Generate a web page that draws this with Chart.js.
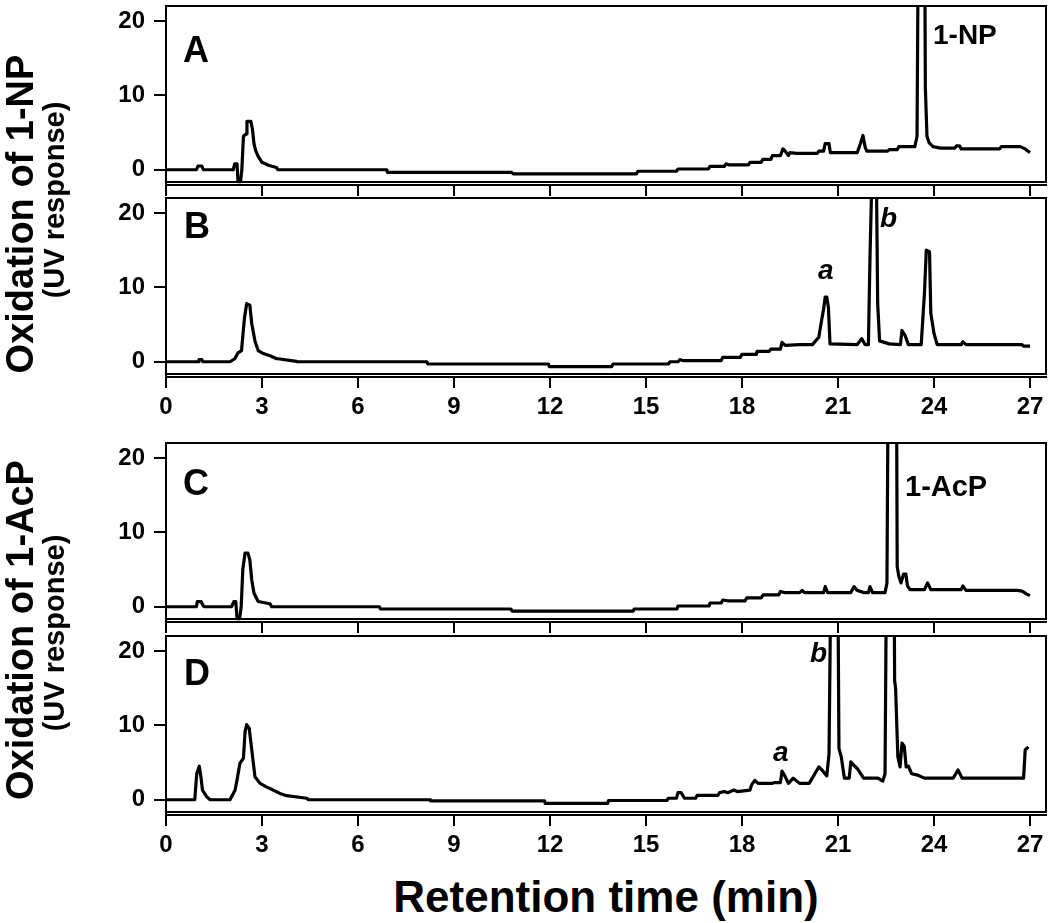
<!DOCTYPE html>
<html><head><meta charset="utf-8">
<script src="https://cdn.jsdelivr.net/npm/chart.js@4.4.1/dist/chart.umd.min.js"></script>
<style>
html,body{margin:0;padding:0;background:#fff;}
#wrap{position:relative;width:1050px;height:923px;overflow:hidden;background:#fff;font-family:"Liberation Sans",Arial,Helvetica,sans-serif;color:#000;}
#wrap canvas{position:absolute;left:0;}
.t{position:absolute;white-space:nowrap;line-height:1;font-weight:bold;color:#000;}
</style></head><body><div id="wrap">
<canvas id="cA" width="1050" height="199" style="top:0px"></canvas>
<canvas id="cB" width="1050" height="237" style="top:190px"></canvas>
<canvas id="cC" width="1050" height="206" style="top:430px"></canvas>
<canvas id="cD" width="1050" height="240" style="top:625px"></canvas>
</div>
<script>
// ---- data ----
const xTicks = [0, 3, 6, 9, 12, 15, 18, 21, 24, 27];
const yTicks = [0, 10, 20];
const yTitleTop = "Oxidation of 1-NP";
const yTitleBottom = "Oxidation of 1-AcP";
const ySubTitle = "(UV response)";
const xTitle = "Retention time (min)";
const panelLetters = ["A", "B", "C", "D"];

// [retention time (min), UV response]
const traceA = [[0,0],[0.95,0],[1.0,0.5],[1.12,0.5],[1.17,0],[2.1,0],[2.15,0.8],[2.22,0.8],[2.25,-1.6],[2.33,-1.6],[2.37,0],[2.42,4.5],[2.5,4.8],[2.53,6.5],[2.65,6.5],[2.7,5.5],[2.75,3.5],[2.8,2.6],[2.88,1.8],[3.0,1.0],[3.2,0.6],[3.45,0.3],[3.5,0],[6.9,0],[6.92,-0.35],[10.8,-0.35],[10.85,-0.55],[14.7,-0.55],[14.75,-0.2],[15.95,-0.2],[16.0,0.1],[16.95,0.1],[17.0,0.45],[17.45,0.45],[17.5,0.8],[17.6,0.65],[18.2,0.65],[18.25,1.0],[18.6,1.0],[18.65,1.4],[18.9,1.4],[18.95,1.9],[19.2,1.9],[19.28,2.8],[19.35,2.5],[19.45,1.9],[19.5,2.3],[19.7,2.2],[20.35,2.2],[20.4,2.5],[20.55,2.5],[20.6,3.5],[20.72,3.5],[20.76,2.3],[21.6,2.3],[21.7,3.5],[21.78,4.6],[21.85,3.0],[21.9,2.5],[22.55,2.5],[22.6,2.7],[22.85,2.7],[22.9,3.1],[23.4,3.1],[23.47,4.5],[23.52,40],[23.7,40],[23.73,11],[23.78,4.5],[23.85,3.6],[23.97,3.1],[24.2,2.9],[24.65,2.9],[24.7,3.2],[24.8,3.2],[24.85,2.8],[26.05,2.8],[26.1,3.1],[26.7,3.1],[26.85,2.8],[27.0,2.3]];

const traceB = [[0,0],[1.0,0],[1.03,0.3],[1.12,0.3],[1.15,0],[2.0,0],[2.15,0.4],[2.25,1.2],[2.36,1.5],[2.45,5.8],[2.52,7.8],[2.62,7.6],[2.68,5.1],[2.78,2.8],[2.88,1.5],[3.04,1.1],[3.25,0.8],[3.46,0.4],[3.5,0.4],[4.08,0.05],[4.1,0],[8.15,0],[8.18,-0.3],[11.95,-0.3],[11.98,-0.65],[13.93,-0.65],[13.97,-0.3],[15.7,-0.3],[15.75,0],[16.0,0],[16.06,0.3],[16.15,0.15],[17.35,0.15],[17.4,0.6],[17.95,0.6],[18.0,1.0],[18.45,1.0],[18.47,1.4],[18.85,1.4],[18.9,1.7],[19.2,1.7],[19.25,2.6],[19.35,2.2],[19.8,2.3],[20.2,2.3],[20.4,3.3],[20.45,4.6],[20.55,7.1],[20.6,8.7],[20.65,8.7],[20.7,7.3],[20.75,2.4],[21.6,2.3],[21.74,3.1],[21.85,2.3],[21.95,2.3],[22.0,14.1],[22.06,25],[22.2,25],[22.24,7.8],[22.3,2.8],[22.6,2.4],[22.95,2.3],[23.0,4.2],[23.1,3.5],[23.2,2.3],[23.6,2.3],[23.7,9.1],[23.76,15.0],[23.86,14.8],[23.9,6.5],[24.0,3.8],[24.1,2.3],[24.85,2.3],[24.9,2.7],[25.0,2.3],[26.75,2.3],[26.8,2.1],[27.0,2.1]];

const traceC = [[0,0],[0.95,0],[0.98,0.7],[1.1,0.7],[1.15,0.2],[1.2,0],[2.05,0],[2.12,0.7],[2.18,0.7],[2.22,-1.6],[2.3,-1.6],[2.35,0],[2.4,5.0],[2.47,7.2],[2.56,7.2],[2.62,6.3],[2.68,3.6],[2.75,1.8],[2.88,0.7],[3.25,0.4],[3.3,0],[6.67,0],[6.7,-0.3],[10.78,-0.3],[10.82,-0.6],[14.6,-0.6],[14.63,-0.3],[15.97,-0.3],[16.0,0.1],[16.97,0.1],[17.0,0.5],[17.35,0.5],[17.4,0.9],[17.55,0.8],[18.1,0.8],[18.15,1.2],[18.6,1.2],[18.66,1.6],[19.15,1.6],[19.2,2.05],[19.35,1.9],[19.8,1.9],[19.88,2.2],[19.95,1.9],[20.55,1.9],[20.6,2.7],[20.68,1.9],[21.4,1.9],[21.5,2.7],[21.6,2.2],[21.8,1.9],[21.95,1.9],[22.0,2.7],[22.08,1.9],[22.47,1.9],[22.53,3.2],[22.58,40],[22.82,40],[22.85,5.4],[22.9,4.1],[22.97,3.2],[23.05,4.4],[23.12,4.4],[23.17,2.8],[23.25,2.3],[23.7,2.3],[23.8,3.2],[23.9,2.3],[24.85,2.3],[24.9,2.8],[25.0,2.2],[26.6,2.2],[26.75,2.1],[26.9,1.7],[27.0,1.5]];

const traceD = [[0,0],[0.9,0],[0.96,3.5],[1.04,4.5],[1.09,3.1],[1.14,1.3],[1.27,0.4],[1.38,0],[2.0,0],[2.16,1.3],[2.23,2.9],[2.31,4.9],[2.42,5.6],[2.47,9.1],[2.52,10.1],[2.6,9.6],[2.68,6.7],[2.78,3.1],[2.94,2.2],[3.15,1.7],[3.35,1.3],[3.56,0.85],[3.77,0.55],[4.4,0.2],[4.45,0],[8.25,0],[8.27,-0.15],[11.83,-0.15],[11.85,-0.5],[13.8,-0.5],[13.83,-0.1],[15.65,-0.1],[15.7,0.2],[15.95,0.2],[16.0,0.95],[16.1,0.95],[16.2,0.2],[16.55,0.2],[16.6,0.6],[17.25,0.6],[17.3,0.95],[17.45,1.1],[17.55,0.95],[17.75,1.3],[17.85,1.1],[18.25,1.3],[18.3,2.0],[18.4,2.6],[18.5,2.2],[18.95,2.2],[19.0,2.3],[19.2,2.3],[19.25,3.85],[19.35,3.1],[19.45,2.2],[19.6,2.9],[19.8,2.2],[20.1,2.2],[20.4,4.4],[20.5,4.0],[20.65,3.2],[20.72,6.2],[20.8,40],[20.98,40],[21.03,6.9],[21.1,5.8],[21.2,2.9],[21.35,2.9],[21.4,5.1],[21.5,4.6],[21.6,4.2],[21.8,2.9],[22.25,2.9],[22.4,2.5],[22.47,3.5],[22.53,40],[22.74,40],[22.77,16],[22.8,15],[22.87,5.8],[22.94,4.4],[23.0,7.6],[23.07,7.2],[23.13,4.4],[23.2,4.5],[23.3,3.5],[23.5,3.3],[23.7,2.9],[24.6,2.9],[24.75,4.0],[24.88,2.9],[26.8,2.9],[26.85,6.7],[26.95,7.1]];

// ---- drawing ----
const FONT = '"Liberation Sans", Arial, Helvetica, sans-serif';
Chart.defaults.font.family = FONT;
Chart.defaults.color = '#000';

const boxPlugin = {
  id: 'box',
  afterDatasetsDraw(chart) {
    const { ctx, chartArea: a } = chart;
    ctx.save();
    ctx.strokeStyle = '#000';
    ctx.lineWidth = 2;
    ctx.strokeRect(a.left, a.top, a.right - a.left, a.bottom - 3 - a.top);
    ctx.restore();
  }
};

function panel(id, trace, padTop, xH, showLabels) {
  return new Chart(document.getElementById(id), {
    type: 'line',
    data: { datasets: [{
      data: trace.map(p => ({ x: p[0], y: p[1] })),
      borderColor: '#000', borderWidth: 3.2, pointRadius: 0, tension: 0,
      fill: false, borderJoinStyle: 'round'
    }] },
    options: {
      responsive: false, animation: false, devicePixelRatio: 1,
      layout: { padding: { top: padTop, right: 4, left: 0, bottom: 0 }, autoPadding: false },
      plugins: { legend: { display: false }, tooltip: { enabled: false } },
      scales: {
        x: {
          type: 'linear', min: 0, max: 27.5,
          afterBuildTicks: s => { s.ticks = xTicks.map(v => ({ value: v })); },
          afterFit: s => { s.height = xH; s.paddingLeft = 0; s.paddingRight = 0; s.paddingTop = 0; s.paddingBottom = 0; },
          grid: { drawOnChartArea: false, drawTicks: true, tickLength: 11, color: '#000', lineWidth: 2 },
          border: { display: true, color: '#000', width: 2 },
          ticks: { display: showLabels, padding: 5, font: { size: 24, weight: 'bold' }, color: '#000', maxRotation: 0, autoSkip: false }
        },
        y: {
          min: -2.05, max: 22,
          afterBuildTicks: s => { s.ticks = yTicks.map(v => ({ value: v })); },
          afterFit: s => { s.width = 166; s.paddingTop = 0; s.paddingBottom = 0; s.paddingLeft = 0; s.paddingRight = 0; },
          grid: { drawOnChartArea: false, drawTicks: true, tickLength: 12, color: '#000', lineWidth: 2 },
          border: { display: true, color: '#000', width: 2 },
          ticks: { padding: 9, font: { size: 24, weight: 'bold' }, color: '#000' }
        }
      }
    },
    plugins: [boxPlugin]
  });
}

panel('cA', traceA, 6, 14, false);
panel('cB', traceB, 8, 50, true);
panel('cC', traceC, 13, 14, false);
panel('cD', traceD, 11, 50, true);

// ---- text overlays ----
const wrap = document.getElementById('wrap');
function addText(txt, left, baseline, size, italic, center) {
  const d = document.createElement('div');
  d.className = 't';
  d.textContent = txt;
  d.style.fontSize = size + 'px';
  d.style.top = (baseline - 0.8465 * size) + 'px';
  d.style.left = left + 'px';
  if (italic) d.style.fontStyle = 'italic';
  if (center) d.style.transform = 'translateX(-50%)';
  wrap.appendChild(d);
}
function addRot(txt, cx, cy, size) {
  const d = document.createElement('div');
  d.className = 't';
  d.textContent = txt;
  d.style.fontSize = size + 'px';
  d.style.left = cx + 'px';
  d.style.top = cy + 'px';
  d.style.transform = 'translate(-50%,-50%) rotate(-90deg)';
  wrap.appendChild(d);
}
addText(panelLetters[0], 183, 62, 36);
addText(panelLetters[1], 184, 238, 36);
addText(panelLetters[2], 183, 495, 36);
addText(panelLetters[3], 184, 685, 36);
addText("1-NP", 933, 45, 28);
addText("a", 818, 280, 28, true);
addText("b", 880, 228, 28, true);
addText("1-AcP", 905, 497, 29);
addText("b", 810, 663, 28, true);
addText("a", 773, 762, 28, true);
addText(xTitle, 606, 912, 44, false, true);
addRot(yTitleTop, 20, 214, 38);
addRot(ySubTitle, 54, 200, 29);
addRot(yTitleBottom, 20, 630, 38);
addRot(ySubTitle, 54, 633, 29);
</script>
</body></html>
